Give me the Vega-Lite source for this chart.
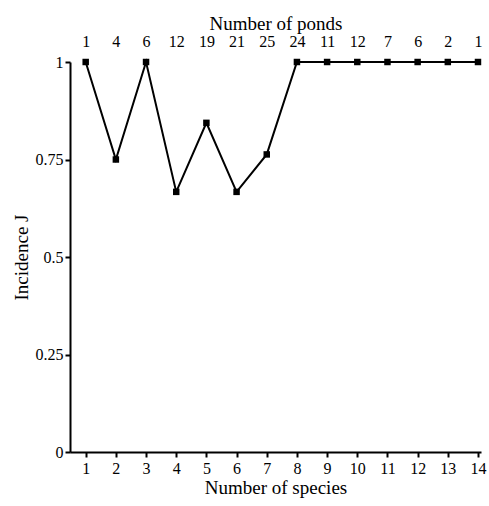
{
  "$schema": "https://vega.github.io/schema/vega-lite/v6.json",
  "autosize": "none",
  "padding": {"left": 70, "top": 62, "right": 8, "bottom": 54},
  "width": 411,
  "height": 390,
  "background": "white",
  "config": {
    "view": {"stroke": null},
    "font": "Liberation Serif",
    "axis": {
      "labelFont": "Liberation Serif",
      "titleFont": "Liberation Serif",
      "labelFontSize": 16,
      "titleFontSize": 19,
      "titleFontWeight": "normal",
      "labelColor": "black",
      "titleColor": "black",
      "domainColor": "black",
      "tickColor": "black",
      "domainWidth": 2,
      "tickWidth": 2,
      "tickSize": 5,
      "grid": false
    }
  },
  "data": {
    "values": [
      {"species": 1, "incidence": 1, "ponds": 1},
      {"species": 2, "incidence": 0.75, "ponds": 4},
      {"species": 3, "incidence": 1, "ponds": 6},
      {"species": 4, "incidence": 0.667, "ponds": 12},
      {"species": 5, "incidence": 0.844, "ponds": 19},
      {"species": 6, "incidence": 0.667, "ponds": 21},
      {"species": 7, "incidence": 0.763, "ponds": 25},
      {"species": 8, "incidence": 1, "ponds": 24},
      {"species": 9, "incidence": 1, "ponds": 11},
      {"species": 10, "incidence": 1, "ponds": 12},
      {"species": 11, "incidence": 1, "ponds": 7},
      {"species": 12, "incidence": 1, "ponds": 6},
      {"species": 13, "incidence": 1, "ponds": 2},
      {"species": 14, "incidence": 1, "ponds": 1}
    ]
  },
  "layer": [
    {
      "mark": {"type": "line", "color": "black", "strokeWidth": 2},
      "encoding": {
        "x": {
          "field": "species", "type": "quantitative",
          "scale": {"domain": [0.48, 14.1], "nice": false, "zero": false},
          "axis": {
            "title": "Number of species",
            "values": [1,2,3,4,5,6,7,8,9,10,11,12,13,14],
            "labelPadding": 3,
            "titlePadding": 2
          }
        },
        "y": {
          "field": "incidence", "type": "quantitative",
          "scale": {"domain": [0, 1], "nice": false},
          "axis": {
            "title": "Incidence J",
            "values": [0, 0.25, 0.5, 0.75, 1],
            "labelExpr": "datum.value == 0 ? '0' : datum.value == 1 ? '1' : format(datum.value, '.2~f')",
            "labelPadding": 2,
            "titlePadding": 4
          }
        }
      }
    },
    {
      "mark": {"type": "square", "color": "black", "opacity": 1, "size": 42, "filled": true},
      "encoding": {
        "x": {"field": "species", "type": "quantitative", "axis": null},
        "y": {"field": "incidence", "type": "quantitative"}
      }
    },
    {
      "mark": {"type": "point", "opacity": 0},
      "encoding": {
        "x": {
          "field": "species", "type": "quantitative",
          "axis": {
            "orient": "top",
            "title": "Number of ponds",
            "values": [1,2,3,4,5,6,7,8,9,10,11,12,13,14],
            "labelExpr": "['1','4','6','12','19','21','25','24','11','12','7','6','2','1'][datum.value - 1]",
            "domain": false,
            "ticks": false,
            "labelPadding": 13,
            "titlePadding": 0
          }
        },
        "y": {"field": "incidence", "type": "quantitative"}
      }
    }
  ],
  "resolve": {"axis": {"x": "independent"}}
}
